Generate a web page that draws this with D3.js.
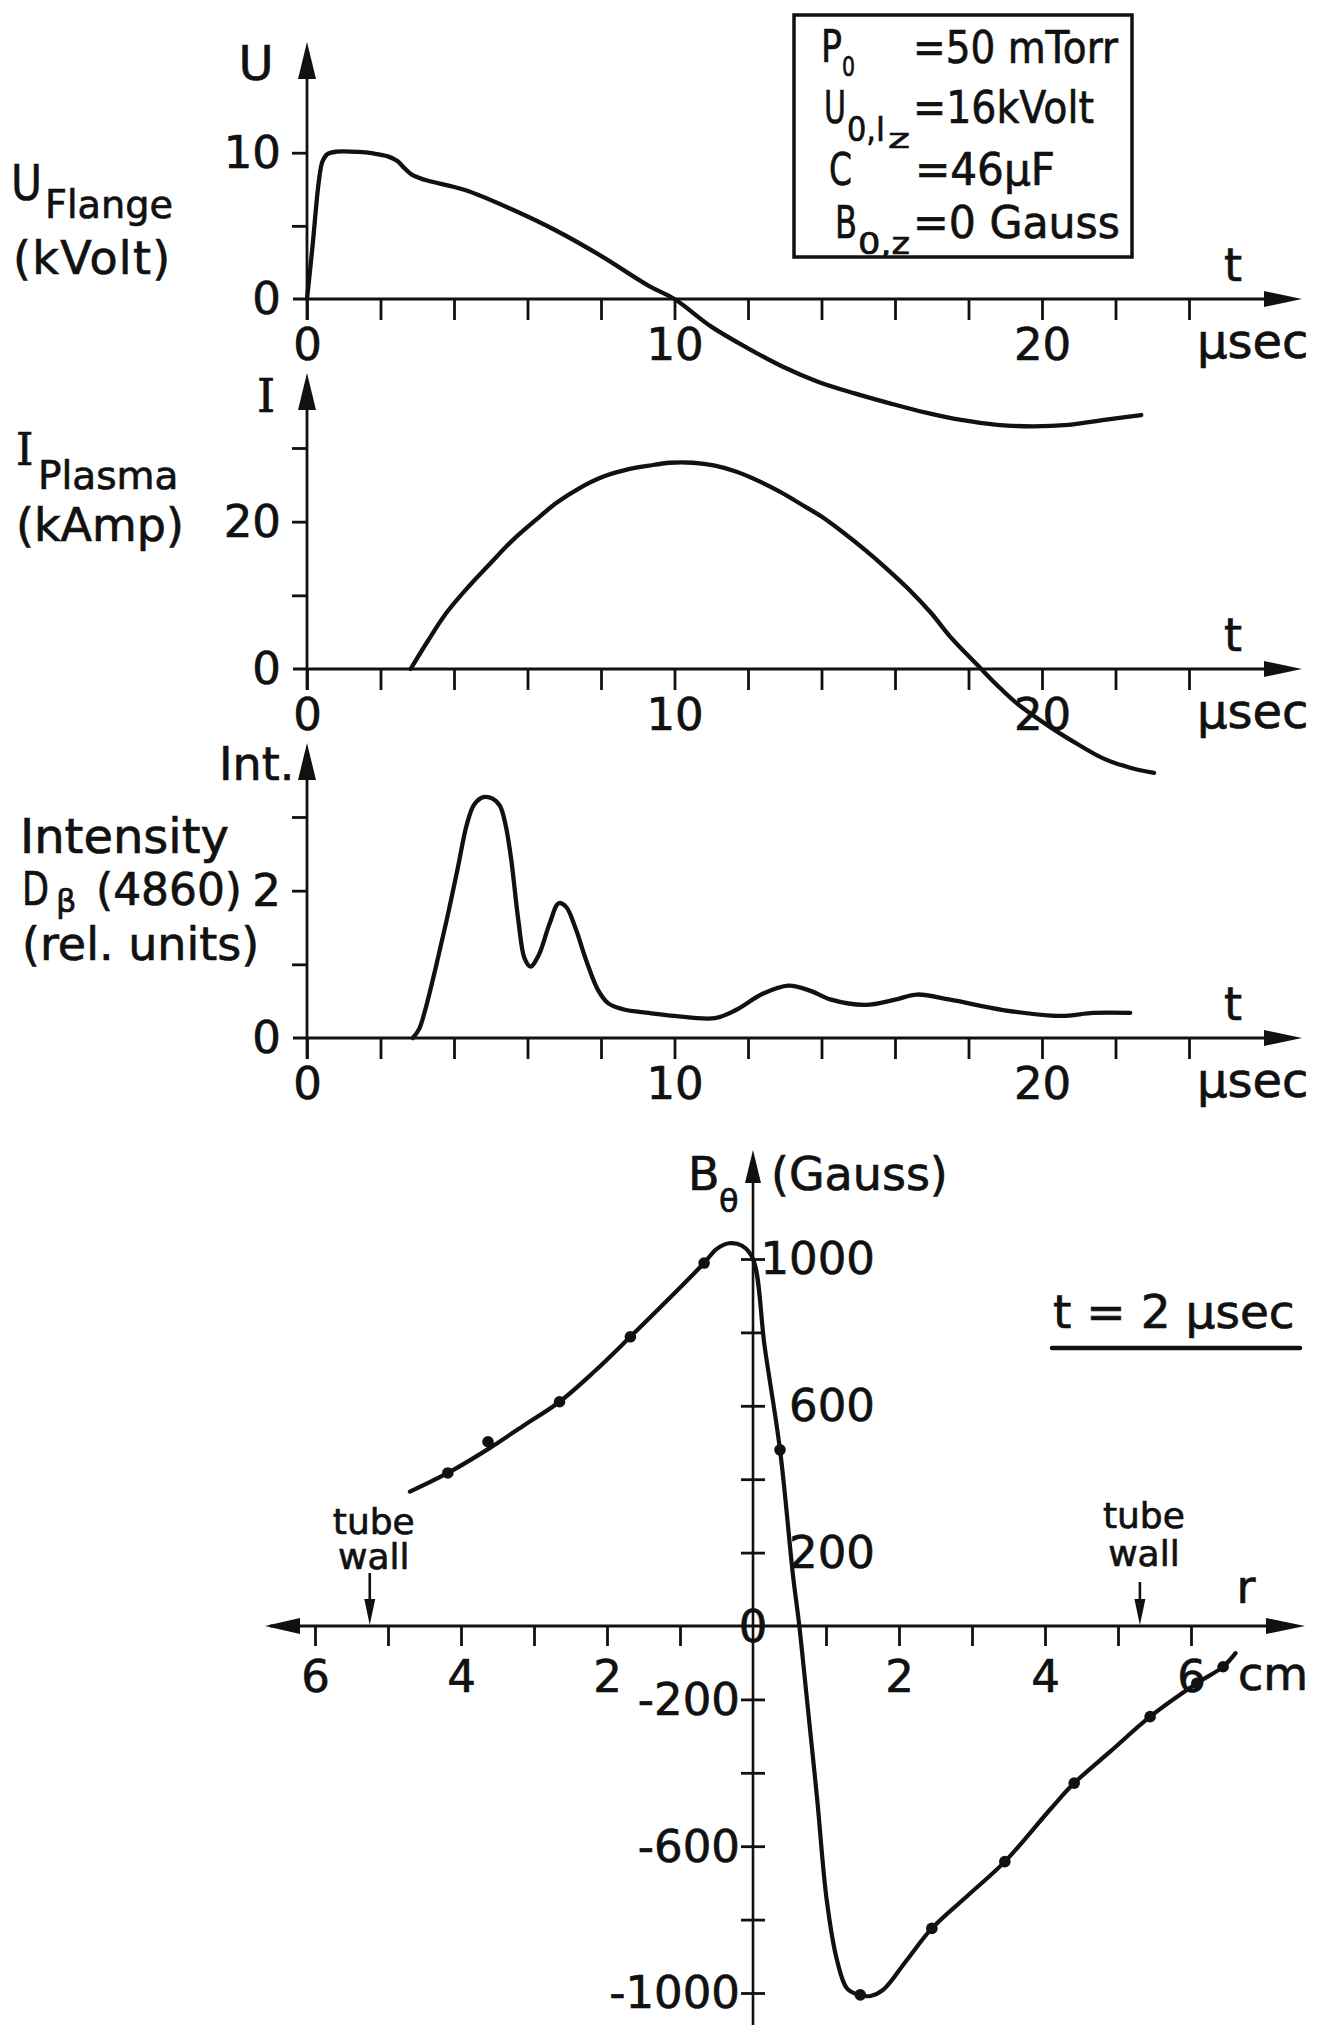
<!DOCTYPE html>
<html><head><meta charset="utf-8">
<script src="https://cdn.jsdelivr.net/npm/d3@7"></script>
<style>
html,body{margin:0;padding:0;background:#fff;}
svg{display:block;}
</style></head><body>
<svg id="chart" width="1326" height="2025"></svg>
<script>
// ---------- data ----------
const timeTicks = [0, 2, 4, 6, 8, 10, 12, 14, 16, 18, 20, 22, 24];
const timeTickLabels = [0, 10, 20];

const uTicks = [0, 5, 10];
const uTickLabels = [0, 10];
const uTime = [0, 0.15, 0.32, 0.42, 0.55, 0.8, 1.4, 1.8, 2.2, 2.45, 2.65, 2.85, 3.2, 4.3, 5.6, 6.8, 8.0, 9.3, 10.0, 11.0, 12.0, 12.95, 13.9, 14.9, 15.86, 16.84, 17.8, 18.78, 19.75, 20.72, 21.7, 22.7];
const uVolt = [0, 3.6, 8.0, 9.4, 9.9, 10.07, 10.05, 9.95, 9.75, 9.45, 8.95, 8.5, 8.15, 7.45, 6.1, 4.65, 2.95, 0.9, 0, -1.89, -3.37, -4.63, -5.65, -6.45, -7.13, -7.77, -8.27, -8.6, -8.7, -8.6, -8.27, -7.93];

const iTicks = [0, 10, 20, 30];
const iTickLabels = [0, 20];
const iTime = [2.82, 3.3, 3.79, 4.4, 5.0, 5.6, 6.22, 6.8, 7.43, 8.0, 8.65, 9.3, 9.87, 10.5, 11.1, 11.67, 12.25, 12.85, 13.4, 14.0, 14.6, 15.2, 15.8, 16.4, 17.0, 17.5, 18.25, 18.8, 19.3, 20.35, 20.9, 21.65, 22.4, 23.05];
const iAmp = [0, 3.9, 7.6, 11.2, 14.4, 17.5, 20.2, 22.6, 24.6, 26.0, 27.0, 27.6, 28.0, 28.0, 27.6, 26.8, 25.6, 24.1, 22.5, 20.7, 18.5, 16.1, 13.5, 10.7, 7.5, 4.4, 0.5, -2.3, -4.6, -8.3, -10.0, -12.1, -13.4, -14.1];

const intTicks = [0, 1, 2, 3];
const intTickLabels = [0, 2];
const intTime = [2.88, 3.05, 3.2, 3.5, 3.8, 4.1, 4.35, 4.55, 4.8, 5.05, 5.25, 5.4, 5.55, 5.75, 5.92, 6.08, 6.3, 6.6, 6.85, 7.05, 7.3, 7.6, 7.92, 8.2, 8.6, 9.3, 10.0, 11.1, 11.67, 12.4, 13.1, 13.7, 14.26, 15.2, 16.0, 16.6, 17.5, 18.94, 20.5, 21.4, 22.4];
const intVal = [0, 0.12, 0.35, 0.95, 1.6, 2.3, 2.9, 3.17, 3.27, 3.25, 3.15, 2.9, 2.45, 1.6, 1.08, 0.97, 1.12, 1.55, 1.83, 1.78, 1.5, 1.05, 0.65, 0.47, 0.39, 0.34, 0.3, 0.27, 0.38, 0.6, 0.71, 0.64, 0.52, 0.45, 0.52, 0.59, 0.52, 0.38, 0.3, 0.34, 0.34];

const rTicks = [-6, -5, -4, -3, -2, -1, 1, 2, 3, 4, 5, 6];
const rTickLabels = [-6, -4, -2, 2, 4, 6];
const bTicks = [-1000, -800, -600, -400, -200, 200, 400, 600, 800, 1000];
const bTickLabels = [1000, 600, 200, -200, -600, -1000];
const tubeWallR = [-5.25, 5.3];

const bCurveR = [-4.70, -4.18, -3.63, -3.15, -2.65, -2.17, -1.68, -1.19, -0.67, -0.50, -0.33, -0.15, 0.0, 0.16, 0.37, 0.55, 0.63, 0.74, 0.88, 1.01, 1.15, 1.29, 1.47, 1.61, 1.79, 2.1, 2.45, 2.95, 3.45, 4.07, 4.40, 4.9, 5.44, 6.08, 6.44, 6.61];
const bCurveB = [366, 417, 482, 545, 611, 694, 788, 884, 989, 1027, 1043, 1036, 1000, 761, 480, 134, 8, -202, -474, -747, -910, -988, -1006, -1008, -990, -912, -824, -733, -642, -500, -428, -341, -247, -156, -111, -74];
const bDotR = [-4.18, -3.63, -2.65, -1.68, -0.67, 0.37, 1.47, 2.45, 3.45, 4.40, 5.44, 6.08, 6.44];
const bDotB = [417, 502, 611, 788, 989, 480, -1005, -824, -642, -428, -247, -156, -111];

// ---------- drawing ----------
const INK = "#111";
const SANS = "'DejaVu Sans', 'Noto Sans', sans-serif";
const SERIF = "'DejaVu Serif', serif";
const TXT_STROKE = 0.7;
const svg = d3.select("#chart").attr("font-family", SANS);
svg.append("rect").attr("width", 1326).attr("height", 2025).attr("fill", "#fff");

function txt(x, y, s, size, o = {}) {
  const t = svg.append("text").attr("x", x).attr("y", y).attr("font-size", size)
    .attr("fill", INK).attr("stroke", INK).attr("stroke-width", TXT_STROKE)
    .attr("font-family", o.family || SANS).text(s);
  if (o.anchor) t.attr("text-anchor", o.anchor);
  if (o.len) t.attr("textLength", o.len).attr("lengthAdjust", "spacingAndGlyphs");
  if (o.ls) t.attr("letter-spacing", o.ls);
  return t;
}
function line(x1, y1, x2, y2, w) {
  svg.append("line").attr("x1", x1).attr("y1", y1).attr("x2", x2).attr("y2", y2)
    .attr("stroke", INK).attr("stroke-width", w || 2.8);
}
function arrow(d) { svg.append("path").attr("d", d).attr("fill", INK); }
function styleAxis(g) {
  g.select(".domain").remove();
  g.attr("font-family", SANS);
  g.selectAll(".tick line").attr("stroke", INK).attr("stroke-width", 2.8);
  g.selectAll(".tick text").attr("fill", INK).attr("stroke", INK).attr("stroke-width", TXT_STROKE)
    .attr("font-size", 45).attr("font-family", SANS);
}
const smooth = d3.curveCatmullRom.alpha(0.5);

const xT = d3.scaleLinear().domain([0, 24]).range([307, 1189]);

function timePanel(cfg) {
  const y = d3.scaleLinear().domain(cfg.yDomain).range(cfg.yRange);
  const y0 = y(0);
  const ax = xT(0);
  // x axis
  line(293, y0, 1270, y0);
  arrow(`M1264,${y0 - 8}L1302,${y0}L1264,${y0 + 8}Z`);
  const gx = svg.append("g").attr("transform", `translate(0,${y0})`)
    .call(d3.axisBottom(xT).tickValues(timeTicks).tickSize(21).tickPadding(8)
      .tickFormat(d => timeTickLabels.includes(d) ? d : ""));
  styleAxis(gx);
  // y axis
  line(ax, y0 + 21, ax, cfg.tipY + 30);
  arrow(`M${ax - 9},${cfg.tipY + 37}L${ax},${cfg.tipY}L${ax + 9},${cfg.tipY + 37}Z`);
  const gy = svg.append("g").attr("transform", `translate(${ax},0)`)
    .call(d3.axisLeft(y).tickValues(cfg.ticks).tickSize(15).tickPadding(11)
      .tickFormat(d => cfg.labels.includes(d) ? d : ""));
  styleAxis(gy);
  gy.selectAll(".tick").filter(d => d === 0).select("line").remove();
  // curve
  svg.append("path").datum(d3.zip(cfg.t, cfg.v))
    .attr("fill", "none").attr("stroke", INK).attr("stroke-width", 4.3)
    .attr("stroke-linecap", "round").attr("stroke-linejoin", "round")
    .attr("d", d3.line().x(d => xT(d[0])).y(d => y(d[1])).curve(smooth));
  // axis names
  txt(1233, y0 - 18, "t", 46, {anchor: "middle"});
  txt(1197, y0 + 59, "μsec", 48);
}

timePanel({yDomain: [0, 10], yRange: [299, 152.7], tipY: 42, ticks: uTicks, labels: uTickLabels, t: uTime, v: uVolt});
timePanel({yDomain: [0, 30], yRange: [669, 448], tipY: 373, ticks: iTicks, labels: iTickLabels, t: iTime, v: iAmp});
timePanel({yDomain: [0, 3], yRange: [1038, 817], tipY: 743, ticks: intTicks, labels: intTickLabels, t: intTime, v: intVal});

// panel labels
txt(256, 80, "U", 48, {anchor: "middle"});
txt(11, 200, "U", 50, {len: 31});
txt(45, 218, "Flange", 39, {len: 128});
txt(13, 274, "(kVolt)", 46, {ls: 1.3});

txt(266, 412, "I", 46, {anchor: "middle", family: SERIF});
txt(16, 465, "I", 44, {family: SERIF});
txt(38, 489, "Plasma", 39);
txt(16, 541, "(kAmp)", 46);

txt(219, 780, "Int.", 46);
txt(20, 853, "Intensity", 48);
txt(22, 905, "D", 46, {len: 27});
txt(56, 912, "β", 32);
txt(96, 905, "(4860)", 45, {len: 146});
txt(22, 960, "(rel. units)", 46);

// parameter box
svg.append("rect").attr("x", 794).attr("y", 15).attr("width", 338).attr("height", 242)
  .attr("fill", "none").attr("stroke", INK).attr("stroke-width", 3.5);
txt(821, 62, "P", 44, {len: 21});
txt(842, 76, "0", 26, {len: 13});
txt(913, 63, "=50 mTorr", 44, {len: 205});
txt(824, 123, "U", 44, {len: 22});
txt(847, 141, "0,I", 34, {len: 38});
txt(888, 148, "z", 26, {len: 22});
txt(913, 123, "=16kVolt", 44, {len: 181});
txt(829, 185, "C", 44, {len: 23});
txt(915, 185, "=46μF", 44, {len: 140});
txt(835, 238, "B", 44, {len: 22});
txt(858, 254, "0,z", 30, {len: 52});
txt(913, 238, "=0 Gauss", 44, {len: 207});

// ---------- B_theta panel ----------
const xR = d3.scaleLinear().domain([-6, 6]).range([315, 1191]);
const yB = d3.scaleLinear().domain([-1000, 1000]).range([1993, 1259]);
const bx0 = xR(0), by0 = yB(0);

line(270, by0, 1272, by0);
arrow(`M300,${by0 - 8}L265,${by0}L300,${by0 + 8}Z`);
arrow(`M1266,${by0 - 8}L1305,${by0}L1266,${by0 + 8}Z`);
const gr = svg.append("g").attr("transform", `translate(0,${by0})`)
  .call(d3.axisBottom(xR).tickValues(rTicks).tickSize(20).tickPadding(14)
    .tickFormat(d => rTickLabels.includes(d) ? Math.abs(d) : ""));
styleAxis(gr);

line(bx0, 2025, bx0, 1175, 2.6);
arrow(`M${bx0 - 8},${1183}L${bx0},${1150}L${bx0 + 8},${1183}Z`);
[d3.axisLeft(yB), d3.axisRight(yB)].forEach(a => {
  const g = svg.append("g").attr("transform", `translate(${bx0},0)`)
    .call(a.tickValues(bTicks).tickSize(12).tickFormat(""));
  styleAxis(g);
});
svg.selectAll("text.blab").data(bTickLabels).join("text")
  .attr("class", "blab")
  .attr("x", d => d > 0 ? 875 : 740)
  .attr("y", d => yB(d)).attr("dy", "0.34em")
  .attr("text-anchor", "end").attr("font-size", 45).attr("fill", INK)
  .attr("stroke", INK).attr("stroke-width", TXT_STROKE)
  .attr("font-family", SANS)
  .text(d => d < 0 ? "-" + Math.abs(d) : d);
txt(bx0, by0 + 16, "0", 45, {anchor: "middle"});

// curve and measured points
svg.append("path").datum(d3.zip(bCurveR, bCurveB))
  .attr("fill", "none").attr("stroke", INK).attr("stroke-width", 4.2)
  .attr("stroke-linecap", "round").attr("stroke-linejoin", "round")
  .attr("d", d3.line().x(d => xR(d[0])).y(d => yB(d[1])).curve(smooth));
svg.selectAll("circle.pt").data(d3.zip(bDotR, bDotB)).join("circle")
  .attr("class", "pt").attr("cx", d => xR(d[0])).attr("cy", d => yB(d[1]))
  .attr("r", 5.8).attr("fill", INK);

// axis names
txt(688, 1190, "B", 46);
txt(719, 1212, "θ", 32);
txt(771, 1190, "(Gauss)", 46);
txt(1246, 1603, "r", 46, {anchor: "middle"});
txt(1238, 1690, "cm", 46);

// tube walls
tubeWallR.forEach((r, i) => {
  const x = xR(r);
  const top = i === 0 ? 1573 : 1582;
  line(x, top, x, by0 - 20, 2.6);
  arrow(`M${x - 5.5},${by0 - 27}L${x},${by0 - 1}L${x + 5.5},${by0 - 27}Z`);
  txt(x + 4, i === 0 ? 1534 : 1528, "tube", 36, {anchor: "middle"});
  txt(x + 4, i === 0 ? 1569 : 1566, "wall", 36, {anchor: "middle"});
});

// time label
txt(1053, 1328, "t = 2 μsec", 47);
svg.append("line").attr("x1", 1052).attr("x2", 1300).attr("y1", 1348).attr("y2", 1348)
  .attr("stroke", INK).attr("stroke-width", 4.5).attr("stroke-linecap", "round");
</script>
</body></html>
